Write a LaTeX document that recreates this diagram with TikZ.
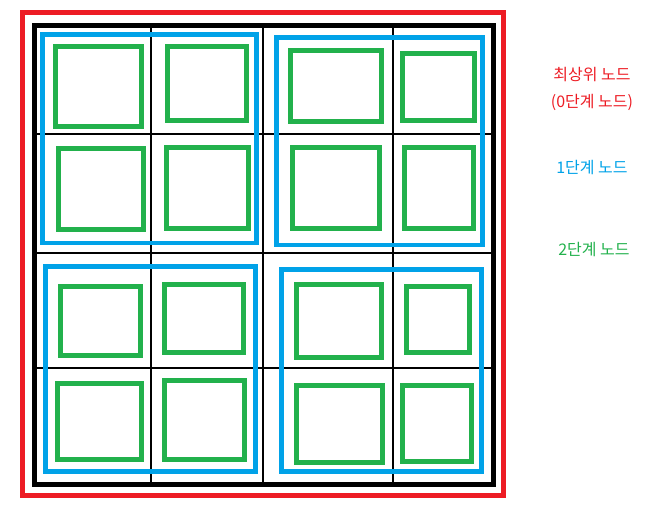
\documentclass[tikz,border=0pt]{standalone}
\usepackage{fontspec}
\newfontfamily\kr{Noto Sans CJK KR}
\definecolor{pred}{RGB}{237,28,36}
\definecolor{pblue}{RGB}{0,162,232}
\definecolor{pgreen}{RGB}{34,177,76}
\begin{document}
\begin{tikzpicture}[x=1pt,y=-1pt,
  redbox/.style={draw=pred,line width=5pt},
  blackbox/.style={draw=black,line width=5pt},
  gridline/.style={draw=black,line width=2.8pt},
  bluebox/.style={draw=pblue,line width=4.5pt},
  greenbox/.style={draw=pgreen,line width=5pt},
  lbl/.style={font=\kr\fontsize{16pt}{19pt}\selectfont,inner sep=0pt}]
\useasboundingbox (0,0) rectangle (649,515);
% grid lines
\foreach \x in {151,263,393} \draw[gridline] (\x,25.5) -- (\x,484);
\foreach \y in {134,253,368} \draw[gridline] (34.5,\y) -- (493,\y);
% outer boxes
\draw[redbox] (22.5,12.5) rectangle (503,495);
\draw[blackbox] (34.5,25.5) rectangle (493,484);
% level 1
\draw[bluebox] (42.5,34.5) rectangle (256.5,243);
\draw[bluebox] (276.5,37.5) rectangle (482.5,245);
\draw[bluebox] (45.5,266.5) rectangle (255.5,471.5);
\draw[bluebox] (281.5,269.5) rectangle (481.5,471.5);
% level 2
\draw[greenbox] (55.5,46) rectangle (141,126);
\draw[greenbox] (167,46) rectangle (246.5,120.5);
\draw[greenbox] (58,148.5) rectangle (143,229);
\draw[greenbox] (166,147) rectangle (248.5,228);
\draw[greenbox] (290.5,50.5) rectangle (381,121);
\draw[greenbox] (402,53) rectangle (474.5,120.5);
\draw[greenbox] (292,147) rectangle (379.5,228);
\draw[greenbox] (404.5,147) rectangle (473,228);
\draw[greenbox] (60.5,286) rectangle (140,355.5);
\draw[greenbox] (164,284) rectangle (243.5,352);
\draw[greenbox] (57,383) rectangle (141,459);
\draw[greenbox] (164,380.5) rectangle (244.5,459.5);
\draw[greenbox] (296,284) rectangle (381,357);
\draw[greenbox] (406,286) rectangle (469.5,352);
\draw[greenbox] (296,385.5) rectangle (382,462);
\draw[greenbox] (402,385) rectangle (471,461);
% labels
\node[lbl,text=pred] (t0) at (592,75) {최상위 노드};
\node[lbl,text=pred] (t0b) at (592,102) {(0단계 노드)};
\node[lbl,text=pblue] (t1) at (592,168) {1단계 노드};
\node[lbl,text=pgreen] (t2) at (594,250) {2단계 노드};
\end{tikzpicture}
\end{document}
